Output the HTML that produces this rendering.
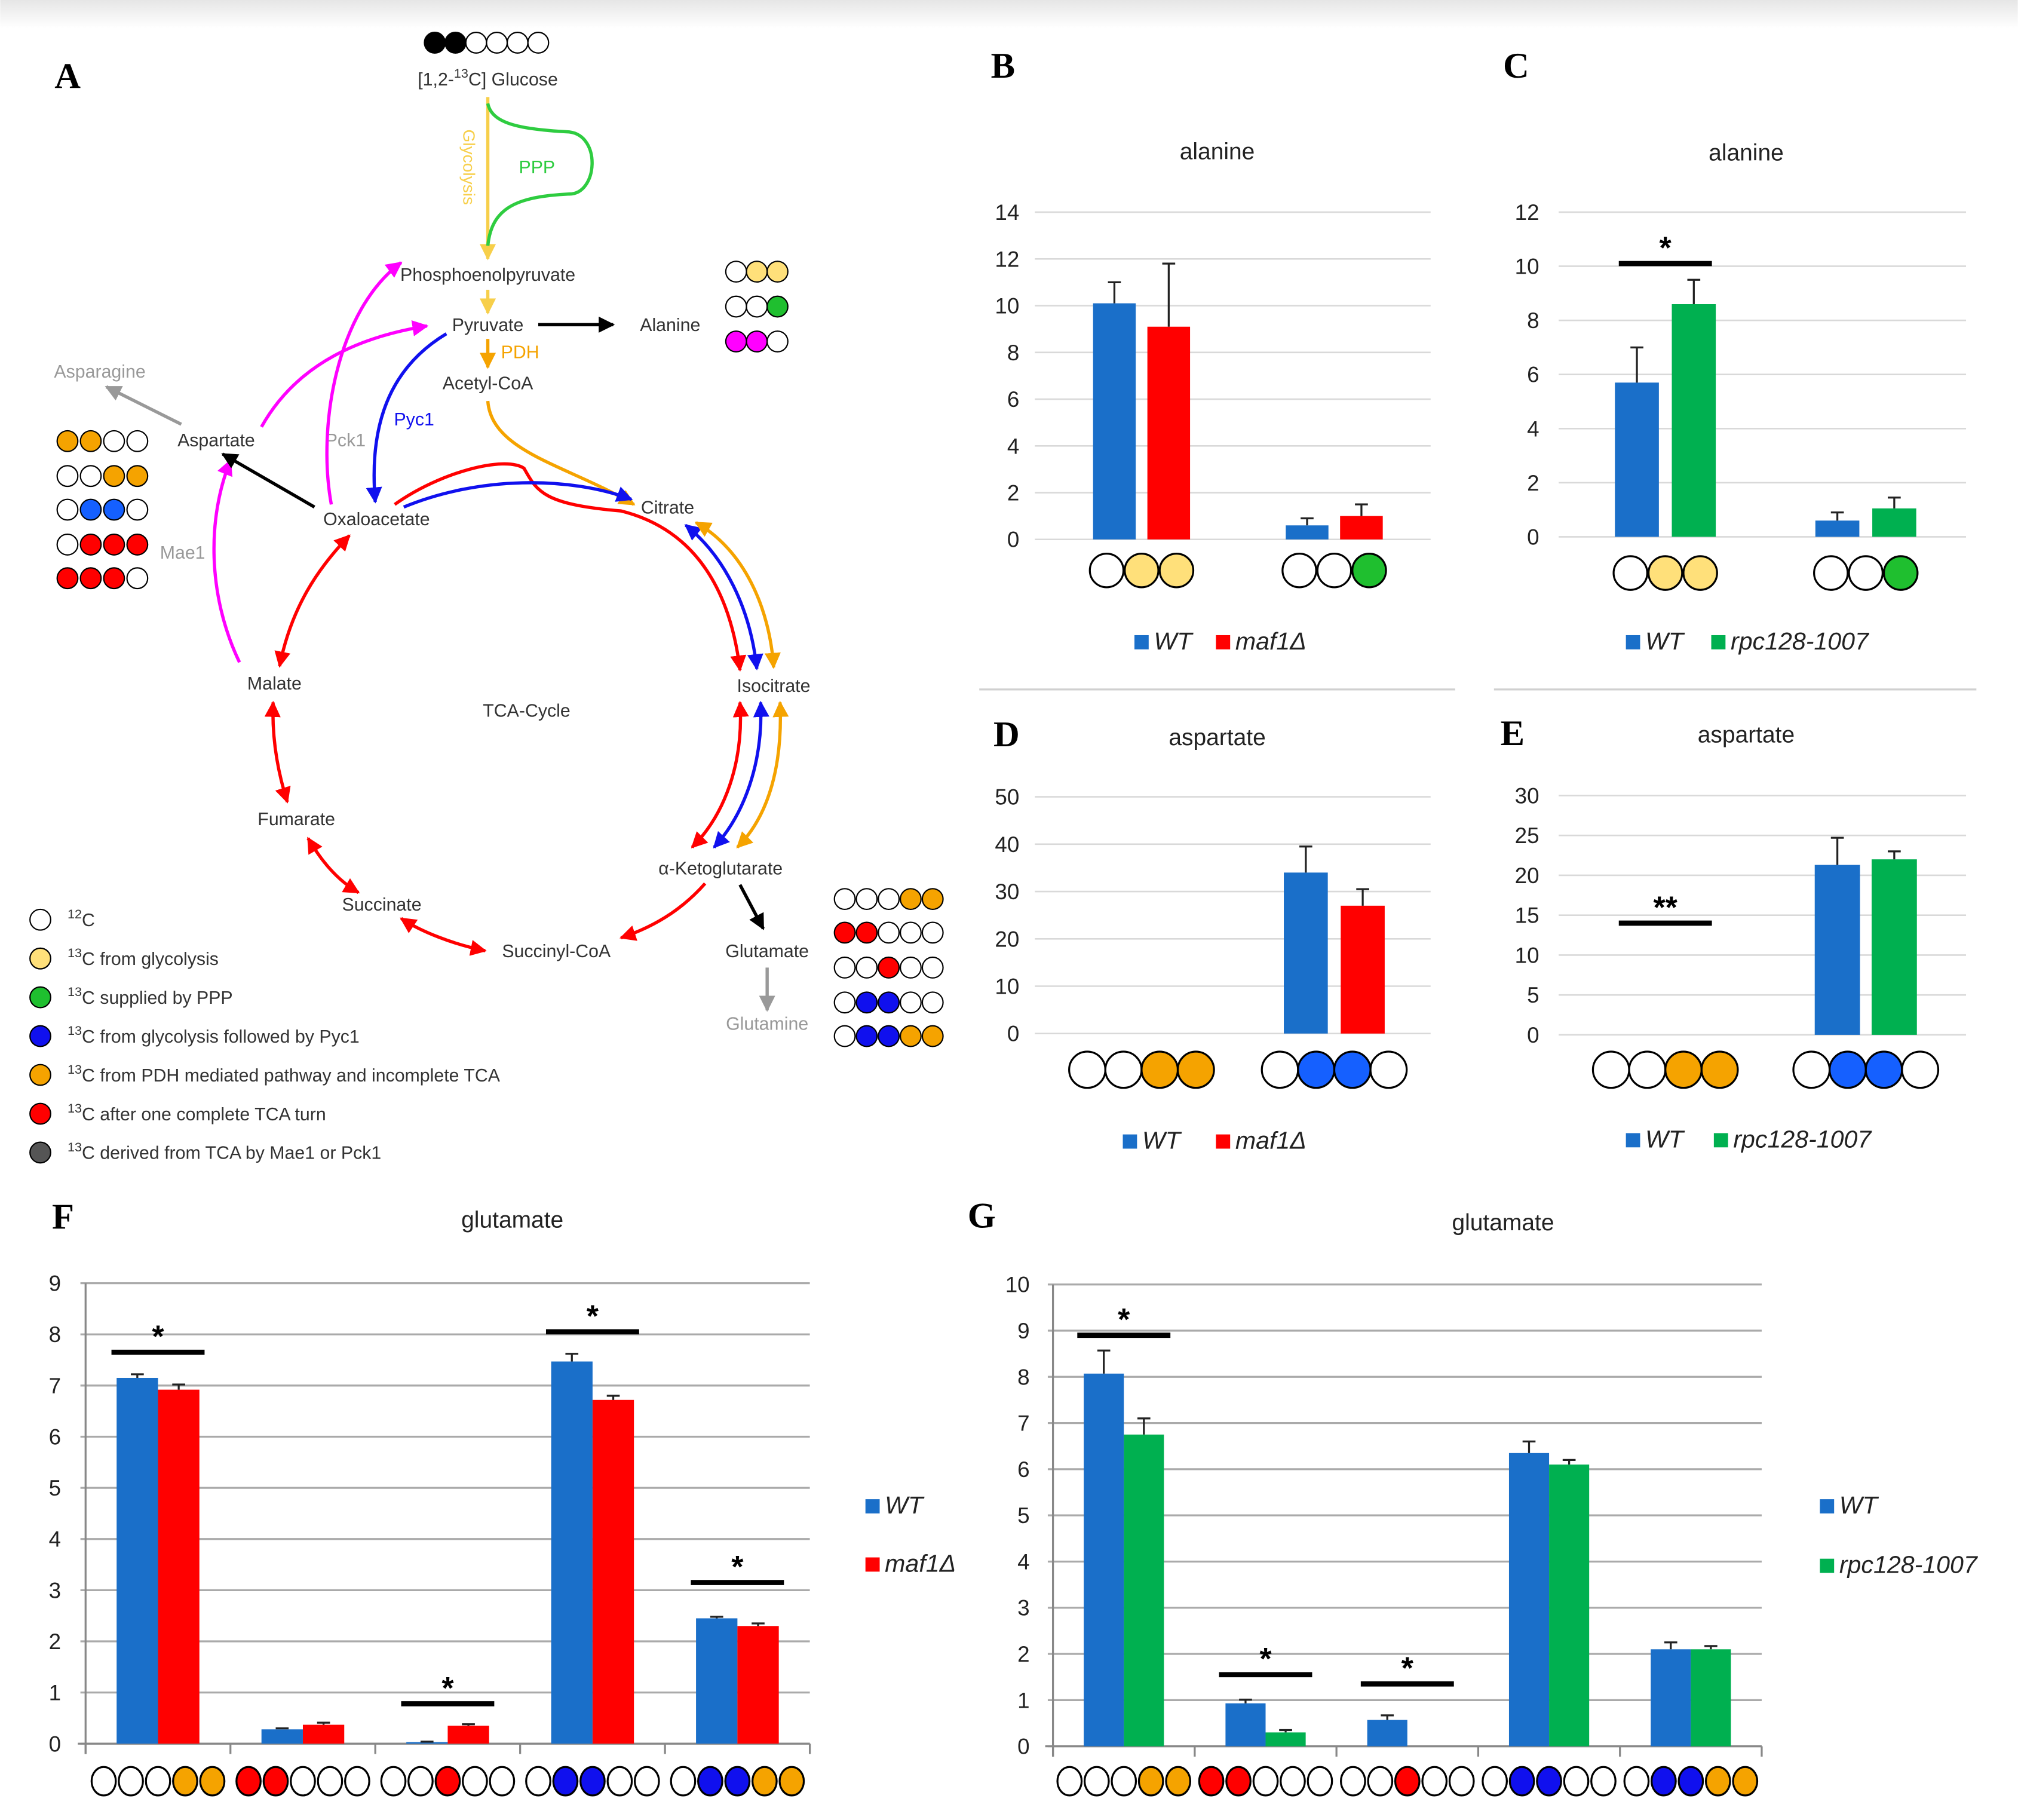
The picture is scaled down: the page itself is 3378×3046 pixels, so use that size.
<!DOCTYPE html>
<html><head><meta charset="utf-8">
<style>
html,body{margin:0;padding:0;background:#fff;}
svg{display:block;font-family:"Liberation Sans",sans-serif;}
</style></head>
<body>
<svg id="fig" xmlns="http://www.w3.org/2000/svg" width="3378" height="3046" viewBox="0 0 1560 1407">
<defs>
<linearGradient id="topg" x1="0" y1="0" x2="0" y2="1"><stop offset="0" stop-color="#e6e6e6"/><stop offset="1" stop-color="#fff"/></linearGradient>
<marker id="mk-k" viewBox="0 0 10 10" refX="9" refY="5" markerWidth="5" markerHeight="5" orient="auto-start-reverse"><path d="M0,0L10,5L0,10z" fill="#000"/></marker>
<marker id="mk-r" viewBox="0 0 10 10" refX="9" refY="5" markerWidth="5" markerHeight="5" orient="auto-start-reverse"><path d="M0,0L10,5L0,10z" fill="#f00"/></marker>
<marker id="mk-b" viewBox="0 0 10 10" refX="9" refY="5" markerWidth="5" markerHeight="5" orient="auto-start-reverse"><path d="M0,0L10,5L0,10z" fill="#1010ee"/></marker>
<marker id="mk-o" viewBox="0 0 10 10" refX="9" refY="5" markerWidth="5" markerHeight="5" orient="auto-start-reverse"><path d="M0,0L10,5L0,10z" fill="#f5a300"/></marker>
<marker id="mk-y" viewBox="0 0 10 10" refX="9" refY="5" markerWidth="5" markerHeight="5" orient="auto-start-reverse"><path d="M0,0L10,5L0,10z" fill="#f7cf4a"/></marker>
<marker id="mk-m" viewBox="0 0 10 10" refX="9" refY="5" markerWidth="5" markerHeight="5" orient="auto-start-reverse"><path d="M0,0L10,5L0,10z" fill="#f0f"/></marker>
<marker id="mk-g" viewBox="0 0 10 10" refX="9" refY="5" markerWidth="5" markerHeight="5" orient="auto-start-reverse"><path d="M0,0L10,5L0,10z" fill="#999"/></marker>
</defs>
<rect x="0" y="0" width="1560" height="22" fill="url(#topg)"/>

<!-- Panel A -->
<g id="panelA" font-size="14" fill="#333">
<text x="42" y="68" font-family="Liberation Serif" font-weight="bold" font-size="28" fill="#000">A</text>
<g stroke="#000" stroke-width="1">
<circle cx="336" cy="33" r="8" fill="#000"/><circle cx="352" cy="33" r="8" fill="#000"/><circle cx="368" cy="33" r="8" fill="#fff"/><circle cx="384" cy="33" r="8" fill="#fff"/><circle cx="400" cy="33" r="8" fill="#fff"/><circle cx="416" cy="33" r="8" fill="#fff"/>
</g>
<text x="377" y="66" text-anchor="middle">[1,2-<tspan font-size="10" dy="-6">13</tspan><tspan dy="6">C] Glucose</tspan></text>
<line x1="377" y1="75" x2="377" y2="200" stroke="#f7cf4a" stroke-width="2.5" marker-end="url(#mk-y)"/>
<text transform="translate(358,100) rotate(90)" fill="#f7cf4a" font-size="13">Glycolysis</text>
<path d="M377,80 C380,95 400,100 440,102 C465,105 462,150 440,150 C400,152 380,160 377,190" fill="none" stroke="#2ecc40" stroke-width="2.5"/>
<text x="415" y="134" text-anchor="middle" fill="#2ecc40">PPP</text>
<text x="377" y="217" text-anchor="middle">Phosphoenolpyruvate</text>
<line x1="377" y1="224" x2="377" y2="242" stroke="#f7cf4a" stroke-width="2.5" marker-end="url(#mk-y)"/>
<text x="377" y="256" text-anchor="middle">Pyruvate</text>
<line x1="416" y1="251" x2="474" y2="251" stroke="#000" stroke-width="2.5" marker-end="url(#mk-k)"/>
<text x="518" y="256" text-anchor="middle">Alanine</text>
<line x1="377" y1="262" x2="377" y2="284" stroke="#f5a300" stroke-width="2.5" marker-end="url(#mk-o)"/>
<text x="402" y="277" text-anchor="middle" fill="#f5a300">PDH</text>
<text x="377" y="301" text-anchor="middle">Acetyl-CoA</text>
<g stroke="#000" stroke-width="1">
<circle cx="569" cy="210" r="8" fill="#fff"/><circle cx="585" cy="210" r="8" fill="#ffe07a"/><circle cx="601" cy="210" r="8" fill="#ffe07a"/>
<circle cx="569" cy="237" r="8" fill="#fff"/><circle cx="585" cy="237" r="8" fill="#fff"/><circle cx="601" cy="237" r="8" fill="#1fbf2f"/>
<circle cx="569" cy="264" r="8" fill="#f0f"/><circle cx="585" cy="264" r="8" fill="#f0f"/><circle cx="601" cy="264" r="8" fill="#fff"/>
</g>
<text x="77" y="292" text-anchor="middle" fill="#999">Asparagine</text>
<line x1="140" y1="328" x2="82" y2="299" stroke="#999" stroke-width="2.5" marker-end="url(#mk-g)"/>
<text x="167" y="345" text-anchor="middle">Aspartate</text>
<g stroke="#000" stroke-width="1">
<circle cx="52" cy="341" r="8" fill="#f5a300"/><circle cx="70" cy="341" r="8" fill="#f5a300"/><circle cx="88" cy="341" r="8" fill="#fff"/><circle cx="106" cy="341" r="8" fill="#fff"/>
<circle cx="52" cy="368" r="8" fill="#fff"/><circle cx="70" cy="368" r="8" fill="#fff"/><circle cx="88" cy="368" r="8" fill="#f5a300"/><circle cx="106" cy="368" r="8" fill="#f5a300"/>
<circle cx="52" cy="394" r="8" fill="#fff"/><circle cx="70" cy="394" r="8" fill="#1560ff"/><circle cx="88" cy="394" r="8" fill="#1560ff"/><circle cx="106" cy="394" r="8" fill="#fff"/>
<circle cx="52" cy="421" r="8" fill="#fff"/><circle cx="70" cy="421" r="8" fill="#f00"/><circle cx="88" cy="421" r="8" fill="#f00"/><circle cx="106" cy="421" r="8" fill="#f00"/>
<circle cx="52" cy="447" r="8" fill="#f00"/><circle cx="70" cy="447" r="8" fill="#f00"/><circle cx="88" cy="447" r="8" fill="#f00"/><circle cx="106" cy="447" r="8" fill="#fff"/>
</g>
<text x="141" y="432" text-anchor="middle" fill="#999">Mae1</text>
<text x="267" y="345" text-anchor="middle" fill="#999">Pck1</text>
<text x="320" y="329" text-anchor="middle" fill="#1010ee">Pyc1</text>
<path d="M256,390 C245,330 260,240 310,203" fill="none" stroke="#f0f" stroke-width="2.5" marker-end="url(#mk-m)"/>
<path d="M202,330 C230,280 280,260 330,252" fill="none" stroke="#f0f" stroke-width="2.5" marker-end="url(#mk-m)"/>
<path d="M185,512 C160,460 160,400 178,356" fill="none" stroke="#f0f" stroke-width="2.5" marker-end="url(#mk-m)"/>
<path d="M345,258 C300,285 285,330 290,388" fill="none" stroke="#1010ee" stroke-width="2.5" marker-end="url(#mk-b)"/>
<line x1="243" y1="392" x2="172" y2="351" stroke="#000" stroke-width="2.5" marker-end="url(#mk-k)"/>
<path d="M377,310 C380,350 440,360 490,390" fill="none" stroke="#f5a300" stroke-width="2.5" marker-end="url(#mk-o)"/>
<text x="291" y="406" text-anchor="middle">Oxaloacetate</text>
<text x="516" y="397" text-anchor="middle">Citrate</text>
<text x="598" y="535" text-anchor="middle">Isocitrate</text>
<text x="557" y="676" text-anchor="middle">α-Ketoglutarate</text>
<text x="430" y="740" text-anchor="middle">Succinyl-CoA</text>
<text x="295" y="704" text-anchor="middle">Succinate</text>
<text x="229" y="638" text-anchor="middle">Fumarate</text>
<text x="212" y="533" text-anchor="middle">Malate</text>
<text x="407" y="554" text-anchor="middle">TCA-Cycle</text>
<path d="M305,390 C340,365 390,352 405,362 C415,380 420,390 480,395 C540,410 565,460 572,518" fill="none" stroke="#f00" stroke-width="2.5" marker-end="url(#mk-r)"/>
<path d="M312,392 C370,368 440,368 488,386" fill="none" stroke="#1010ee" stroke-width="2.5" marker-end="url(#mk-b)"/>
<path d="M530,406 C560,430 580,470 585,517" fill="none" stroke="#1010ee" stroke-width="2.5" marker-start="url(#mk-b)" marker-end="url(#mk-b)"/>
<path d="M538,404 C575,425 595,470 598,516" fill="none" stroke="#f5a300" stroke-width="2.5" marker-start="url(#mk-o)" marker-end="url(#mk-o)"/>
<path d="M572,543 C575,590 560,630 535,655" fill="none" stroke="#f00" stroke-width="2.5" marker-start="url(#mk-r)" marker-end="url(#mk-r)"/>
<path d="M588,543 C590,590 575,630 552,655" fill="none" stroke="#1010ee" stroke-width="2.5" marker-start="url(#mk-b)" marker-end="url(#mk-b)"/>
<path d="M603,543 C605,590 595,630 570,655" fill="none" stroke="#f5a300" stroke-width="2.5" marker-start="url(#mk-o)" marker-end="url(#mk-o)"/>
<path d="M545,683 C530,700 510,715 480,725" fill="none" stroke="#f00" stroke-width="2.5" marker-end="url(#mk-r)"/>
<path d="M375,735 C350,730 325,720 310,710" fill="none" stroke="#f00" stroke-width="2.5" marker-start="url(#mk-r)" marker-end="url(#mk-r)"/>
<path d="M277,690 C260,680 248,665 238,648" fill="none" stroke="#f00" stroke-width="2.5" marker-start="url(#mk-r)" marker-end="url(#mk-r)"/>
<path d="M222,620 C214,595 210,570 211,543" fill="none" stroke="#f00" stroke-width="2.5" marker-start="url(#mk-r)" marker-end="url(#mk-r)"/>
<path d="M216,515 C225,470 245,440 270,414" fill="none" stroke="#f00" stroke-width="2.5" marker-start="url(#mk-r)" marker-end="url(#mk-r)"/>
<line x1="572" y1="684" x2="590" y2="718" stroke="#000" stroke-width="2.5" marker-end="url(#mk-k)"/>
<text x="593" y="740" text-anchor="middle">Glutamate</text>
<line x1="593" y1="748" x2="593" y2="781" stroke="#999" stroke-width="2.5" marker-end="url(#mk-g)"/>
<text x="593" y="796" text-anchor="middle" fill="#999">Glutamine</text>
<g stroke="#000" stroke-width="1">
<circle cx="653" cy="695" r="8" fill="#fff"/><circle cx="670" cy="695" r="8" fill="#fff"/><circle cx="687" cy="695" r="8" fill="#fff"/><circle cx="704" cy="695" r="8" fill="#f5a300"/><circle cx="721" cy="695" r="8" fill="#f5a300"/>
<circle cx="653" cy="721" r="8" fill="#f00"/><circle cx="670" cy="721" r="8" fill="#f00"/><circle cx="687" cy="721" r="8" fill="#fff"/><circle cx="704" cy="721" r="8" fill="#fff"/><circle cx="721" cy="721" r="8" fill="#fff"/>
<circle cx="653" cy="748" r="8" fill="#fff"/><circle cx="670" cy="748" r="8" fill="#fff"/><circle cx="687" cy="748" r="8" fill="#f00"/><circle cx="704" cy="748" r="8" fill="#fff"/><circle cx="721" cy="748" r="8" fill="#fff"/>
<circle cx="653" cy="775" r="8" fill="#fff"/><circle cx="670" cy="775" r="8" fill="#1010ee"/><circle cx="687" cy="775" r="8" fill="#1010ee"/><circle cx="704" cy="775" r="8" fill="#fff"/><circle cx="721" cy="775" r="8" fill="#fff"/>
<circle cx="653" cy="801" r="8" fill="#fff"/><circle cx="670" cy="801" r="8" fill="#1010ee"/><circle cx="687" cy="801" r="8" fill="#1010ee"/><circle cx="704" cy="801" r="8" fill="#f5a300"/><circle cx="721" cy="801" r="8" fill="#f5a300"/>
</g>
<g font-size="14" fill="#333">
<circle cx="31" cy="711" r="8" fill="#fff" stroke="#000"/><text x="52" y="716"><tspan font-size="10" dy="-6">12</tspan><tspan dy="6">C</tspan></text>
<circle cx="31" cy="741" r="8" fill="#ffe07a" stroke="#000"/><text x="52" y="746"><tspan font-size="10" dy="-6">13</tspan><tspan dy="6">C from glycolysis</tspan></text>
<circle cx="31" cy="771" r="8" fill="#1fbf2f" stroke="#000"/><text x="52" y="776"><tspan font-size="10" dy="-6">13</tspan><tspan dy="6">C supplied by PPP</tspan></text>
<circle cx="31" cy="801" r="8" fill="#1010ee" stroke="#000"/><text x="52" y="806"><tspan font-size="10" dy="-6">13</tspan><tspan dy="6">C from glycolysis followed by Pyc1</tspan></text>
<circle cx="31" cy="831" r="8" fill="#f5a300" stroke="#000"/><text x="52" y="836"><tspan font-size="10" dy="-6">13</tspan><tspan dy="6">C from PDH mediated pathway and incomplete TCA</tspan></text>
<circle cx="31" cy="861" r="8" fill="#f00" stroke="#000"/><text x="52" y="866"><tspan font-size="10" dy="-6">13</tspan><tspan dy="6">C after one complete TCA turn</tspan></text>
<circle cx="31" cy="891" r="8" fill="#555" stroke="#000"/><text x="52" y="896"><tspan font-size="10" dy="-6">13</tspan><tspan dy="6">C derived from TCA by Mae1 or Pck1</tspan></text>
</g>
</g>

<line x1="757" y1="533" x2="1125" y2="533" stroke="#d0d0d0" stroke-width="1.5"/>
<line x1="1155" y1="533" x2="1528" y2="533" stroke="#d0d0d0" stroke-width="1.5"/>
<g id="charts"></g>
</svg>
<script>
// Panel B: alanine, WT vs maf1
const bCats = ['wyy', 'wwg'];
const bWT = [10.1, 0.6];
const bWTerr = [0.9, 0.3];
const bMut = [9.1, 1.0];
const bMutErr = [2.7, 0.5];
const bTicks = [0, 2, 4, 6, 8, 10, 12, 14];
const bSig = [];
// Panel C: alanine, WT vs rpc128
const cCats = ['wyy', 'wwg'];
const cWT = [5.7, 0.6];
const cWTerr = [1.3, 0.3];
const cMut = [8.6, 1.05];
const cMutErr = [0.9, 0.4];
const cTicks = [0, 2, 4, 6, 8, 10, 12];
const cSig = [{g: 0, v: 10.1, t: '*'}];
// Panel D: aspartate, WT vs maf1
const dCats = ['wwoo', 'wbbw'];
const dWT = [0, 34];
const dWTerr = [0, 5.5];
const dMut = [0, 27];
const dMutErr = [0, 3.5];
const dTicks = [0, 10, 20, 30, 40, 50];
const dSig = [];
// Panel E: aspartate, WT vs rpc128
const eCats = ['wwoo', 'wbbw'];
const eWT = [0, 21.3];
const eWTerr = [0, 3.4];
const eMut = [0, 22];
const eMutErr = [0, 1];
const eTicks = [0, 5, 10, 15, 20, 25, 30];
const eSig = [{g: 0, v: 14, t: '**'}];
// Panel F: glutamate, WT vs maf1
const fCats = ['wwwoo', 'rrwww', 'wwrww', 'wBBww', 'wBBoo'];
const fWT = [7.15, 0.28, 0.03, 7.47, 2.45];
const fWTerr = [0.07, 0.02, 0.01, 0.15, 0.03];
const fMut = [6.92, 0.37, 0.35, 6.72, 2.3];
const fMutErr = [0.1, 0.04, 0.03, 0.08, 0.05];
const fTicks = [0, 1, 2, 3, 4, 5, 6, 7, 8, 9];
const fSig = [{g: 0, v: 7.65, t: '*'}, {g: 2, v: 0.78, t: '*'}, {g: 3, v: 8.05, t: '*'}, {g: 4, v: 3.15, t: '*'}];
// Panel G: glutamate, WT vs rpc128
const gCats = ['wwwoo', 'rrwww', 'wwrww', 'wBBww', 'wBBoo'];
const gWT = [8.07, 0.93, 0.57, 6.35, 2.1];
const gWTerr = [0.5, 0.08, 0.1, 0.25, 0.15];
const gMut = [6.75, 0.3, 0, 6.1, 2.1];
const gMutErr = [0.35, 0.05, 0, 0.1, 0.07];
const gTicks = [0, 1, 2, 3, 4, 5, 6, 7, 8, 9, 10];
const gSig = [{g: 0, v: 8.9, t: '*'}, {g: 1, v: 1.55, t: '*'}, {g: 2, v: 1.35, t: '*'}];

const NS = 'http://www.w3.org/2000/svg';
const root = document.getElementById('charts');
const CMAP = {w: '#fff', y: '#ffe07a', g: '#1fbf2f', o: '#f5a300', r: '#ff0000', b: '#1560ff', B: '#1010ee'};
function mk(tag, attrs, parent) {
  const el = document.createElementNS(NS, tag);
  for (const k in attrs) el.setAttribute(k, attrs[k]);
  (parent || root).appendChild(el);
  return el;
}
function chart(o) {
  const g = mk('g', {});
  
  
  const max = o.ticks[o.ticks.length - 1];
  const yS = v => o.y0 - (v / max) * (o.y0 - o.yTop);
  const gw = (o.gx1 - o.gx0) / o.cats.length;
  const xC = i => o.gx0 + gw * (i + 0.5);
  const lab = mk('text', {x: o.px, y: o.py, 'font-family': 'Liberation Serif', 'font-weight': 'bold', 'font-size': 28, fill: '#000'}, g);
  lab.textContent = o.letter;
  
  
  const t = mk('text', {x: o.tx, y: o.ty, 'text-anchor': 'middle', 'font-size': 18, fill: '#222'}, g);
  t.textContent = o.title;
  
  
  o.ticks.forEach(v => {
    const ln = mk('line', {x1: o.x0, x2: o.x1, y1: yS(v), y2: yS(v), stroke: o.axis ? '#aaa' : '#d9d9d9', 'stroke-width': o.axis ? 1.5 : 1.2}, g);
    
    
    const tl = mk('text', {x: o.lx, y: yS(v) + 6, 'text-anchor': 'end', 'font-size': 17, fill: '#222'}, g);
    tl.textContent = v;
    
    
  });
  if (o.axis) {
    const ya = mk('line', {x1: o.gx0, x2: o.gx0, y1: yS(max), y2: o.y0 + 8, stroke: '#888', 'stroke-width': 1.5}, g);
    
    
    const xa = mk('line', {x1: o.gx0 - 6, x2: o.x1, y1: o.y0, y2: o.y0, stroke: '#888', 'stroke-width': 1.5}, g);
    
    
    for (let i = 0; i <= o.cats.length; i++) {
      const tk = mk('line', {x1: o.gx0 + gw * i, x2: o.gx0 + gw * i, y1: o.y0, y2: o.y0 + 8, stroke: '#888', 'stroke-width': 1.5}, g);
      
      
    }
  }
  const series = [[o.a, o.ae, '#1a6fc9', -1], [o.b, o.be, o.col, 1]];
  o.cats.forEach((cat, i) => {
    series.forEach(([vals, errs, col, s]) => {
      const cx = xC(i) + s * o.off;
      const v = vals[i];
      const r = mk('rect', {x: cx - o.bw / 2, y: yS(v), width: o.bw, height: o.y0 - yS(v), fill: col}, g);
      
      
      if (v > 0) {
        const e = errs[i];
        const p = mk('path', {d: `M${cx},${yS(v)}V${yS(v + e)}M${cx - 5},${yS(v + e)}H${cx + 5}`, stroke: '#222', 'stroke-width': 1.5, fill: 'none'}, g);
        
        
      }
    });
    const n = cat.length;
    for (let k = 0; k < n; k++) {
      const c = mk('ellipse', {cx: xC(i) + (k - (n - 1) / 2) * o.cs, cy: o.cy, rx: o.cr * o.ex, ry: o.cr, fill: CMAP[cat[k]], stroke: '#000', 'stroke-width': 1.5}, g);
      
      
    }
  });
  o.sig.forEach(sg => {
    const x = xC(sg.g);
    const sl = mk('line', {x1: x - 36, x2: x + 36, y1: yS(sg.v), y2: yS(sg.v), stroke: '#000', 'stroke-width': 4}, g);
    
    
    const st = mk('text', {x: x, y: yS(sg.v) - 4, 'text-anchor': 'middle', 'font-size': 24, 'font-weight': 'bold', fill: '#000'}, g);
    st.textContent = sg.t;
    
    
  });
  o.legend.forEach(([lx, ly, col, txt]) => {
    const sq = mk('rect', {x: lx, y: ly - 11, width: 11, height: 11, fill: col}, g);
    
    
    const lt = mk('text', {x: lx + 15, y: ly, 'font-size': 19, 'font-style': 'italic', fill: '#222'}, g);
    lt.textContent = txt;
    
    
  });
}
const RED = '#ff0000', GRN = '#00b050';
chart({name: 'chart-b-alanine', letter: 'B', px: 766, py: 60, title: 'alanine', tx: 941, ty: 123, cats: bCats, a: bWT, ae: bWTerr, b: bMut, be: bMutErr, ticks: bTicks, sig: bSig, col: RED,
  y0: 417, yTop: 164, x0: 800, x1: 1106, gx0: 808, gx1: 1106, lx: 788, bw: 33, off: 21, cy: 441, cr: 13, cs: 27, ex: 1, axis: false,
  legend: [[877, 502, '#1a6fc9', 'WT'], [940, 502, RED, 'maf1Δ']]});
chart({name: 'chart-c-alanine', letter: 'C', px: 1162, py: 60, title: 'alanine', tx: 1350, ty: 124, cats: cCats, a: cWT, ae: cWTerr, b: cMut, be: cMutErr, ticks: cTicks, sig: cSig, col: GRN,
  y0: 415, yTop: 164, x0: 1205, x1: 1520, gx0: 1210, gx1: 1520, lx: 1190, bw: 34, off: 22, cy: 443, cr: 13, cs: 27, ex: 1, axis: false,
  legend: [[1257, 502, '#1a6fc9', 'WT'], [1323, 502, GRN, 'rpc128-1007']]});
chart({name: 'chart-d-aspartate', letter: 'D', px: 768, py: 577, title: 'aspartate', tx: 941, ty: 576, cats: dCats, a: dWT, ae: dWTerr, b: dMut, be: dMutErr, ticks: dTicks, sig: dSig, col: RED,
  y0: 799, yTop: 616, x0: 800, x1: 1106, gx0: 808, gx1: 1106, lx: 788, bw: 34, off: 22, cy: 827, cr: 14, cs: 28, ex: 1, axis: false,
  legend: [[868, 888, '#1a6fc9', 'WT'], [940, 888, RED, 'maf1Δ']]});
chart({name: 'chart-e-aspartate', letter: 'E', px: 1160, py: 576, title: 'aspartate', tx: 1350, ty: 574, cats: eCats, a: eWT, ae: eWTerr, b: eMut, be: eMutErr, ticks: eTicks, sig: eSig, col: GRN,
  y0: 800, yTop: 615, x0: 1205, x1: 1520, gx0: 1210, gx1: 1520, lx: 1190, bw: 35, off: 22, cy: 827, cr: 14, cs: 28, ex: 1, axis: false,
  legend: [[1257, 887, '#1a6fc9', 'WT'], [1325, 887, GRN, 'rpc128-1007']]});
chart({name: 'chart-f-glutamate', letter: 'F', px: 40, py: 950, title: 'glutamate', tx: 396, ty: 949, cats: fCats, a: fWT, ae: fWTerr, b: fMut, be: fMutErr, ticks: fTicks, sig: fSig, col: RED,
  y0: 1348, yTop: 992, x0: 62, x1: 626, gx0: 66, gx1: 626, lx: 47, bw: 32, off: 16, cy: 1377, cr: 11, cs: 21, ex: 0.85, axis: true,
  legend: [[669, 1170, '#1a6fc9', 'WT'], [669, 1215, RED, 'maf1Δ']]});
chart({name: 'chart-g-glutamate', letter: 'G', px: 748, py: 949, title: 'glutamate', tx: 1162, ty: 951, cats: gCats, a: gWT, ae: gWTerr, b: gMut, be: gMutErr, ticks: gTicks, sig: gSig, col: GRN,
  y0: 1350, yTop: 993, x0: 810, x1: 1362, gx0: 814, gx1: 1362, lx: 796, bw: 31, off: 15.5, cy: 1377, cr: 11, cs: 21, ex: 0.85, axis: true,
  legend: [[1407, 1170, '#1a6fc9', 'WT'], [1407, 1216, GRN, 'rpc128-1007']]});
</script>
</body></html>
